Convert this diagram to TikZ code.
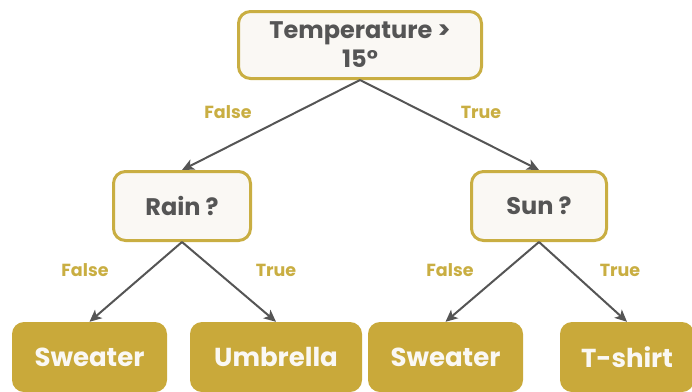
\documentclass[tikz,border=0pt]{standalone}
\usepackage{fontspec}
\setmainfont{Poppins}
\usetikzlibrary{arrows.meta,positioning,shapes}
\definecolor{gold}{HTML}{C9AE42}
\definecolor{leafgold}{HTML}{C9A93A}
\definecolor{paper}{HTML}{FAF8F4}
\definecolor{ink}{HTML}{555555}

\begin{document}
\begin{tikzpicture}[x=1pt, y=-1pt,
    test/.style={draw=gold, line width=3pt, fill=paper, rounded corners=12pt,
      text=ink, font=\fontsize{24}{29}\selectfont\bfseries, align=center, inner sep=0pt},
    leaf/.style={fill=leafgold, rounded corners=12pt, text=paper,
      font=\fontsize{26}{30}\selectfont\bfseries, inner sep=0pt, minimum height=70pt},
    branch/.style={text=gold, font=\fontsize{17.5}{20}\selectfont\bfseries},
    edge/.style={draw=ink, line width=2pt, -{Stealth[length=12pt,width=11pt,inset=3pt]}}]
  \useasboundingbox (0, 0) rectangle (692, 391);
  \clip (0, 0) rectangle (692, 391);

  \coordinate (top) at (360, 45);
  \coordinate (left) at (182, 206);
  \coordinate (right) at (539, 206);

  % questions
  \node[test, minimum width=243pt, minimum height=67pt] (temp) at (top) {Temperature >\\15°};
  \node[test, minimum width=137pt, minimum height=69pt] (rain) at (left) {Rain ?};
  \node[test, minimum width=135pt, minimum height=69pt] (sun) at (right) {Sun ?};

  % answers
  \node[leaf, minimum width=155pt] (sweaterA) at (89.5, 357) {Sweater};
  \node[leaf, minimum width=172pt] (umbrella) at (276, 357) {Umbrella};
  \node[leaf, minimum width=155pt] (sweaterB) at (445.5, 357) {Sweater};
  \node[leaf, minimum width=134pt] (tshirt) at (627, 357) {T-shirt};

  \draw[edge] (temp.south) -- (rain.north);
  \draw[edge] (temp.south) -- (sun.north);
  \draw[edge] (rain.south) -- (sweaterA.north);
  \draw[edge] (rain.south) -- (umbrella.north);
  \draw[edge] (sun.south) -- (sweaterB.north);
  \draw[edge] (sun.south) -- (tshirt.north);

  \node[branch] (f1) at (228, 112) {False};
  \node[branch] (t1) at (481, 112) {True};
  \node[branch] (f2) at (85, 270) {False};
  \node[branch] (t2) at (276, 270) {True};
  \node[branch] (f3) at (450, 270) {False};
  \node[branch] (t3) at (620, 270) {True};
\end{tikzpicture}
\end{document}
